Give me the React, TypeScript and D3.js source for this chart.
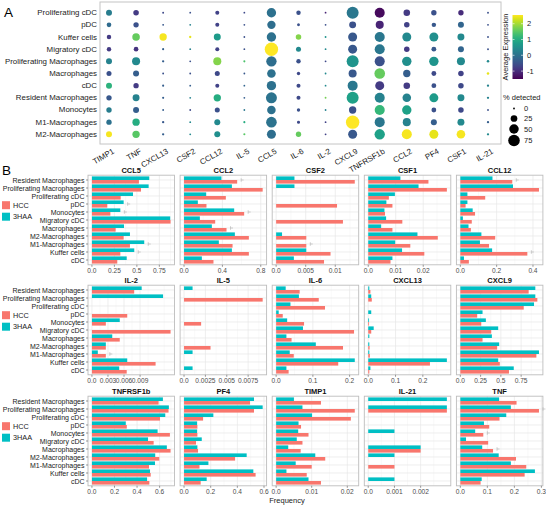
import React from "react";
import * as d3 from "d3";

// ---------- Panel A data ----------
const cellTypesA = ["Proliferating cDC","pDC","Kuffer cells","Migratory cDC","Proliferating Macrophages","Macrophages","cDC","Resident Macrophages","Monocytes","M1-Macrophages","M2-Macrophages"];
const genesA = ["TIMP1","TNF","CXCL13","CSF2","CCL12","IL-5","CCL5","IL-6","IL-2","CXCL9","TNFRSF1b","CCL2","PF4","CSF1","IL-21"];

const avgTIMP1 = [0.2,-0.1,-0.8,-0.8,0.3,-0.5,1.1,-0.4,0.2,0.0,2.5];
const avgTNF = [-0.8,-0.5,1.6,-0.9,0.4,-0.3,-0.8,0.3,-0.3,1.0,1.5];
const avgCXCL13 = [-0.6,-0.4,2.5,-0.3,-0.3,-0.5,-0.3,-0.3,-0.3,-0.4,-0.3];
const avgCSF2 = [-0.5,0.3,2.4,0.3,-0.5,-0.5,-0.3,0.3,-0.6,0.4,0.4];
const avgCCL12 = [-0.7,-0.7,0.7,-0.7,1.8,-0.6,-0.7,1.0,-0.5,0.4,0.5];
const avgIL5 = [-0.6,-0.5,-0.5,-0.5,1.4,-0.4,-0.2,-0.3,0.1,1.0,1.5];
const avgCCL5 = [0.0,-0.05,0.0,2.55,-0.05,0.0,0.0,0.05,0.0,0.05,-0.05];
const avgIL6 = [-0.5,-0.5,1.8,0.4,-0.5,-0.6,-0.6,-0.6,-0.5,-0.6,1.6];
const avgIL2 = [-1.1,-0.5,0.6,0.4,-0.6,0.4,0.4,1.7,0.3,-0.7,-0.7];
const avgCXCL9 = [0.1,-0.5,-0.4,-0.4,0.6,-0.4,0.1,0.8,-0.5,2.55,-0.4];
const avgTNFRSF1b = [-1.4,-1.1,0.1,0.1,-0.5,1.6,-0.8,0.3,1.2,0.1,0.8];
const avgCCL2 = [-0.8,-0.7,0.4,-0.8,0.5,-0.3,-0.8,0.3,0.8,0.3,2.5];
const avgPF4 = [-0.5,-0.4,0.5,-0.4,0.6,-0.6,-0.5,0.7,-0.5,-0.3,2.4];
const avgCSF1 = [-1.0,-0.2,0.4,-0.2,0.4,-0.7,-0.6,0.4,-0.6,0.4,2.5];
const avgIL21 = [-0.5,-0.5,-0.5,-0.5,0.4,2.4,0.3,0.3,-0.5,-0.3,0.4];

const pctTIMP1 = [20,12,11,11,20,14,20,16,16,16,20];
const pctTNF = [17,16,32,12,36,20,16,27,20,30,30];
const pctCXCL13 = [2,2,30,2.5,3,2,2.5,2.5,2,3,3];
const pctCSF2 = [1.5,1.5,3,1.5,1.5,1.5,1.5,1.5,1.5,1.5,1.5];
const pctCCL12 = [9,9,27,9,36,14,9,30,14,20,20];
const pctIL5 = [1.5,1.5,1.5,1.5,2.5,1.5,1.5,1.5,1.5,2.5,2.5];
const pctCCL5 = [49,39,49,100,60,41,49,67,41,63,45];
const pctIL6 = [11,5,17,14,11,6.4,9,9,6.4,5,16];
const pctIL2 = [1.5,1.5,2,1.5,1.5,1.5,1.5,2,1.5,1.5,1.5];
const pctCXCL9 = [80,27,45,45,80,36,56,80,30,100,45];
const pctTNFRSF1b = [56,36,56,56,56,63,45,56,56,56,60];
const pctCCL2 = [24,17,45,17,49,30,24,41,49,36,56];
const pctPF4 = [16,11,45,13,49,13,13,45,13,20,45];
const pctCSF1 = [16,20,27,20,36,17,17,27,17,27,41];
const pctIL21 = [2,2,2,2,3.5,3.5,3,3,2,3,3];

const avgByGene = [avgTIMP1,avgTNF,avgCXCL13,avgCSF2,avgCCL12,avgIL5,avgCCL5,avgIL6,avgIL2,avgCXCL9,avgTNFRSF1b,avgCCL2,avgPF4,avgCSF1,avgIL21];
const pctByGene = [pctTIMP1,pctTNF,pctCXCL13,pctCSF2,pctCCL12,pctIL5,pctCCL5,pctIL6,pctIL2,pctCXCL9,pctTNFRSF1b,pctCCL2,pctPF4,pctCSF1,pctIL21];

const colorTicks = [2, 1, 0, -1];
const sizeTicks = [0, 25, 50, 75];

// ---------- Panel B data ----------
const cellTypesB = ["Resident Macrophages","Proliferating Macrophages","Proliferating cDC","pDC","Monocytes","Migratory cDC","Macrophages","M2-Macrophages","M1-Macrophages","Kuffer cells","cDC"];
const groups = ["HCC","3HAA"];
const panelGenes = ["CCL5","CCL2","CSF2","CSF1","CCL12","IL-2","IL-5","IL-6","CXCL13","CXCL9","TNFRSF1b","PF4","TIMP1","IL-21","TNF"];

const hccCCL5 = [0.523,0.546,0.32,0.171,0.205,0.875,0.264,0.353,0.423,0.316,0.282];
const haaCCL5 = [0.638,0.631,0.457,0.353,0.316,0.871,0.357,0.423,0.582,0.471,0.387];
const hccCCL2 = [0.554,0.82,0.436,0.234,0.627,0.325,0.443,0.676,0.506,0.676,0.307];
const haaCCL2 = [0.39,0.499,0.231,0.144,0.523,0.165,0.29,0.53,0.363,0.499,0.186];
const hccCSF2 = [0.0133,0,0,0.0103,0,0.0113,0,0.0051,0.0051,0.0092,0.0081];
const haaCSF2 = [0.0031,0.0031,0,0,0,0,0,0.001,0,0.0051,0.003];
const hccCSF1 = [0.0219,0.0286,0.0075,0.0088,0.0061,0.0124,0.0088,0.0253,0.0153,0.0204,0.0081];
const haaCSF1 = [0.0117,0.0183,0.0097,0.0066,0.0059,0.0065,0.0047,0.0179,0.0098,0.0123,0.0088];
const hccCCL12 = [0.286,0.433,0.137,0.029,0.081,0.063,0.058,0.192,0.158,0.369,0.047];
const haaCCL12 = [0.177,0.29,0.039,0.039,0.068,0.014,0.045,0.116,0.108,0.175,0.02];
const hccIL2 = [0.0079,0,0,0.0066,0.0026,0.0147,0.0052,0.0026,0.0026,0.0119,0.0065];
const haaIL2 = [0.0093,0.0133,0,0,0.0052,0,0.0038,0.0026,0.0011,0.0066,0.0051];
const hccIL5 = [0,0.0092,0,0,0.002,0,0,0.0031,0,0,0];
const haaIL5 = [0.001,0,0,0,0,0,0,0,0.001,0,0.001];
const hccIL6 = [0.064,0.116,0.133,0.018,0.076,0.212,0.042,0.182,0.048,0.169,0.034];
const haaIL6 = [0.026,0.062,0.039,0.007,0.03,0.073,0.028,0.108,0.037,0.214,0.028];
const hccCXCL13 = [0.008,0.013,0,0,0.003,0.011,0,0.005,0.006,0.226,0.004];
const haaCXCL13 = [0.004,0.011,0,0.011,0.003,0.02,0.004,0.004,0.004,0.288,0.008];
const hccCXCL9 = [0.843,0.95,0.782,0.208,0.258,0.381,0.274,0.454,0.938,0.487,0.6];
const haaCXCL9 = [0.925,0.925,0.909,0.274,0.315,0.467,0.389,0.479,0.97,0.467,0.659];
const hccTNFRSF1b = [0.591,0.679,0.603,0.309,0.691,0.547,0.697,0.597,0.506,0.521,0.509];
const haaTNFRSF1b = [0.629,0.682,0.65,0.3,0.582,0.497,0.664,0.561,0.559,0.515,0.489];
const hccPF4 = [0.495,0.525,0.143,0.1,0.1,0.09,0.105,0.383,0.116,0.537,0.125];
const haaPF4 = [0.525,0.59,0.22,0.098,0.098,0.133,0.1,0.47,0.183,0.52,0.17];
const hccTIMP1 = [0.0126,0.0221,0.021,0.007,0.0091,0.0074,0.0069,0.0138,0.01,0.0086,0.0126];
const haaTIMP1 = [0.005,0.0074,0.0101,0.0063,0.0062,0.0058,0.0034,0.011,0.0055,0.0029,0.0091];
const hccIL21 = [0,0.003,0,0,0,0,0.002,0,0.001,0,0];
const haaIL21 = [0.003,0.003,0,0,0.001,0,0.002,0.001,0,0,0.001];
const hccTNF = [0.208,0.291,0.145,0.107,0.085,0.103,0.121,0.206,0.244,0.238,0.075];
const haaTNF = [0.1435,0.187,0.17,0.0875,0.055,0.021,0.081,0.142,0.187,0.276,0.079];

const hccByPanel = [hccCCL5,hccCCL2,hccCSF2,hccCSF1,hccCCL12,hccIL2,hccIL5,hccIL6,hccCXCL13,hccCXCL9,hccTNFRSF1b,hccPF4,hccTIMP1,hccIL21,hccTNF];
const haaByPanel = [haaCCL5,haaCCL2,haaCSF2,haaCSF1,haaCCL12,haaIL2,haaIL5,haaIL6,haaCXCL13,haaCXCL9,haaTNFRSF1b,haaPF4,haaTIMP1,haaIL21,haaTNF];

const tickValsByPanel = [
  [0,0.25,0.5,0.75],[0,0.4,0.8],[0,0.005,0.01],[0,0.01,0.02],[0,0.2,0.4],
  [0,0.003,0.006,0.009],[0,0.0025,0.005,0.0075],[0,0.1,0.2],[0,0.1,0.2],[0,0.25,0.5,0.75],
  [0,0.2,0.4,0.6],[0,0.2,0.4,0.6],[0,0.01,0.02],[0,0.001,0.002],[0,0.1,0.2,0.3],
];
const tickLabelsByPanel = [
  ["0.0","0.25","0.5","0.75"],["0.0","0.4","0.8"],["0.0","0.005","0.01"],["0.0","0.01","0.02"],["0.0","0.2","0.4"],
  ["0.0","0.003","0.006","0.009"],["0.0","0.0025","0.005","0.0075"],["0.0","0.1","0.2"],["0.0","0.1","0.2"],["0.0","0.25","0.5","0.75"],
  ["0.0","0.2","0.4","0.6"],["0.0","0.2","0.4","0.6"],["0.0","0.01","0.02"],["0.0","0.001","0.002"],["0.0","0.1","0.2","0.3"],
];
// small error markers: [panel gene, cell type]
const markerGenes = ["CCL5","CCL5","CCL5","CCL5","CCL2","CCL2","CCL2","CSF2","CCL12","CCL12","IL-2","TNF","TNF","TNF"];
const markerCells = ["pDC","Monocytes","M1-Macrophages","Kuffer cells","Resident Macrophages","Monocytes","Macrophages","M1-Macrophages","Resident Macrophages","Kuffer cells","M1-Macrophages","Proliferating Macrophages","Monocytes","Macrophages"];

const RED = "#F8766D";
const TEAL = "#00BFC4";
const FONT = "'Liberation Sans', Arial, sans-serif";

export default function App() {
  // ---- Panel A scales ----
  const ax = d3.scalePoint<string>().domain(genesA).range([109, 488]);
  const ay = d3.scalePoint<string>().domain(cellTypesA).range([12.7, 134.3]);
  const color = d3.scaleSequential(d3.interpolateViridis).domain([-1.5, 2.55]);
  const rScale = d3.scaleSqrt().domain([0, 75]).range([0, 5.8]);
  const rad = (p: number) => Math.max(0.9, rScale(p));
  const cbY = d3.scaleLinear().domain([2.55, -1.5]).range([15, 79]);
  const gradStops = d3.range(0, 1.0001, 0.05);

  // ---- Panel B layout ----
  const left0 = 88, stepX = 92.1, pw = 86.5;
  const rowTops = [175.2, 285.2, 396.2];
  const ph = 89.6;

  const panels = panelGenes.map((g, i) => {
    const col = i % 5, row = Math.floor(i / 5);
    const x0 = left0 + col * stepX;
    const top = rowTops[row];
    const hcc = hccByPanel[i], haa = haaByPanel[i];
    const maxV = d3.max([...hcc, ...haa]) as number;
    const xs = d3.scaleLinear().domain([-0.05 * maxV, maxV * 1.05]).range([x0, x0 + pw]);
    const ys = d3.scaleBand<string>().domain(cellTypesB).range([top, top + ph]).paddingInner(0).paddingOuter(0.1);
    return { g, i, col, row, x0, top, hcc, haa, xs, ys };
  });

  return (
    <svg width={546} height={506} style={{ position: "absolute", left: 0, top: 0, fontFamily: FONT }}>
      <rect width={546} height={506} fill="#fff" />
      {/* ===== Panel A ===== */}
      <text x={4} y={17} fontSize={13.5} fill="#000">A</text>
      <rect x={100} y={2} width={401} height={142} fill="none" stroke="#c4c4c4" strokeWidth={1} />
      {cellTypesA.map((c) => (
        <text key={c} x={97} y={ay(c)} fontSize={7.9} textAnchor="end" dominantBaseline="central" fill="#222">{c}</text>
      ))}
      {genesA.map((g) => (
        <text key={g} transform={`translate(${(ax(g) as number) + 3},148) rotate(-30)`} fontSize={7.9} textAnchor="end" dy="0.7em" fill="#222">{g}</text>
      ))}
      {genesA.map((g, gi) =>
        cellTypesA.map((c, ci) => (
          <circle key={g + c} cx={ax(g)} cy={ay(c)} r={rad(pctByGene[gi][ci])} fill={color(avgByGene[gi][ci])} />
        ))
      )}
      {/* colour legend */}
      <defs>
        <linearGradient id="vir" x1="0" y1="1" x2="0" y2="0">
          {gradStops.map((t) => (
            <stop key={t} offset={`${t * 100}%`} stopColor={d3.interpolateViridis(t)} />
          ))}
        </linearGradient>
      </defs>
      <text transform="translate(508,47) rotate(-90)" fontSize={7.5} textAnchor="middle" fill="#222">Average Expression</text>
      <rect x={512.5} y={15} width={10.5} height={64} fill="url(#vir)" />
      {colorTicks.map((t) => (
        <g key={t}>
          <line x1={512.5} x2={514.5} y1={cbY(t)} y2={cbY(t)} stroke="#fff" strokeWidth={0.6} />
          <line x1={521} x2={523} y1={cbY(t)} y2={cbY(t)} stroke="#fff" strokeWidth={0.6} />
          <text x={527} y={cbY(t)} fontSize={7.5} dominantBaseline="central" fill="#222">{t}</text>
        </g>
      ))}
      <text x={503} y={100} fontSize={7.5} fill="#222">% detected</text>
      {sizeTicks.map((s, k) => (
        <g key={s}>
          <circle cx={514} cy={[108.5, 118.5, 129, 140.5][k]} r={s === 0 ? 0.9 : rScale(s)} fill="#000" />
          <text x={524} y={[108.5, 118.5, 129, 140.5][k]} fontSize={7.5} dominantBaseline="central" fill="#222">{s}</text>
        </g>
      ))}

      {/* ===== Panel B ===== */}
      <text x={2} y={175} fontSize={13.5} fill="#000">B</text>
      {rowTops.map((top, r) => (
        <g key={"leg" + r}>
          <rect x={2} y={top + 26} width={8} height={8} fill={RED} />
          <text x={13} y={top + 30} fontSize={7.3} dominantBaseline="central" fill="#222">{groups[0]}</text>
          <rect x={2} y={top + 37.5} width={8} height={8} fill={TEAL} />
          <text x={13} y={top + 41.5} fontSize={7.3} dominantBaseline="central" fill="#222">{groups[1]}</text>
        </g>
      ))}
      {panels.map((p) => {
        const ticks = tickValsByPanel[p.i];
        const labels = tickLabelsByPanel[p.i];
        const stepT = ticks[1] - ticks[0];
        const dom = p.xs.domain();
        const minors: number[] = [];
        for (let v = ticks[0] + stepT / 2; v <= dom[1]; v += stepT) minors.push(v);
        const bw = p.ys.bandwidth() * 0.45;
        const mk = markerGenes.map((g, k) => (g === p.g ? markerCells[k] : null)).filter((c) => c) as string[];
        return (
          <g key={p.g}>
            <rect x={p.x0} y={p.top} width={pw} height={ph} fill="#fff" />
            {minors.map((v) => (
              <line key={"mi" + v} x1={p.xs(v)} x2={p.xs(v)} y1={p.top} y2={p.top + ph} stroke="#f2f2f2" strokeWidth={0.5} />
            ))}
            {ticks.map((v) => (
              <line key={"ma" + v} x1={p.xs(v)} x2={p.xs(v)} y1={p.top} y2={p.top + ph} stroke="#e6e6e6" strokeWidth={0.7} />
            ))}
            {cellTypesB.map((c) => {
              const yc = (p.ys(c) as number) + p.ys.bandwidth() / 2;
              return <line key={"h" + c} x1={p.x0} x2={p.x0 + pw} y1={yc} y2={yc} stroke="#e6e6e6" strokeWidth={0.7} />;
            })}
            {cellTypesB.map((c, ci) => {
              const yc = (p.ys(c) as number) + p.ys.bandwidth() / 2;
              return (
                <g key={"b" + c}>
                  {p.haa[ci] > 0 && (
                    <rect x={p.xs(0)} y={yc - bw} width={p.xs(p.haa[ci]) - p.xs(0)} height={bw} fill={TEAL} />
                  )}
                  {p.hcc[ci] > 0 && (
                    <rect x={p.xs(0)} y={yc} width={p.xs(p.hcc[ci]) - p.xs(0)} height={bw} fill={RED} />
                  )}
                </g>
              );
            })}
            {mk.map((c) => {
              const ci = cellTypesB.indexOf(c);
              const yc = (p.ys(c) as number) + p.ys.bandwidth() / 2;
              const xm = p.xs(Math.max(p.hcc[ci], p.haa[ci])) + 4;
              return (
                <g key={"m" + c} stroke="#b0b0b0" strokeWidth={0.6}>
                  <line x1={xm} x2={xm} y1={yc - 1.8} y2={yc + 1.8} />
                  <line x1={xm} x2={xm + 2.5} y1={yc} y2={yc} />
                </g>
              );
            })}
            <rect x={p.x0} y={p.top} width={pw} height={ph} fill="none" stroke="#bdbdbd" strokeWidth={0.9} />
            <text x={p.x0 + pw / 2} y={p.top - 2} fontSize={7.5} fontWeight="bold" textAnchor="middle" fill="#111">{p.g}</text>
            {ticks.map((v, k) => (
              <g key={"t" + v}>
                <line x1={p.xs(v)} x2={p.xs(v)} y1={p.top + ph} y2={p.top + ph + 2} stroke="#555" strokeWidth={0.6} />
                <text x={p.xs(v)} y={p.top + ph + 5.5} fontSize={6.6} textAnchor="middle" dominantBaseline="central" fill="#4d4d4d">{labels[k]}</text>
              </g>
            ))}
            {p.col === 0 && cellTypesB.map((c) => {
              const yc = (p.ys(c) as number) + p.ys.bandwidth() / 2;
              return (
                <g key={"yl" + c}>
                  <line x1={p.x0 - 2} x2={p.x0} y1={yc} y2={yc} stroke="#555" strokeWidth={0.6} />
                  <text x={p.x0 - 3.5} y={yc} fontSize={7} textAnchor="end" dominantBaseline="central" fill="#222">{c}</text>
                </g>
              );
            })}
          </g>
        );
      })}
      <text x={287} y={500} fontSize={7.5} textAnchor="middle" dominantBaseline="central" fill="#222">Frequency</text>
    </svg>
  );
}
